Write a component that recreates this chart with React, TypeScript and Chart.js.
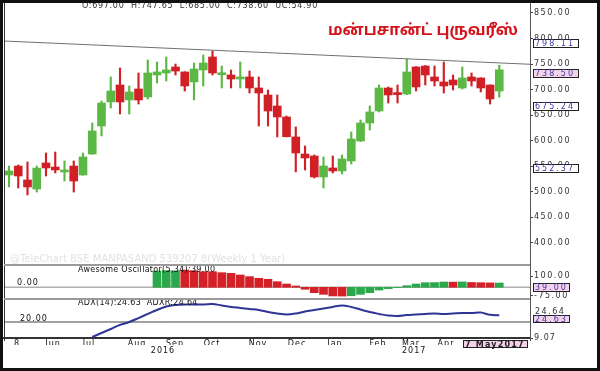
import React, { useEffect, useRef } from 'react';
import { Chart, registerables } from 'chart.js';

Chart.register(...registerables);

const FONT = '"DejaVu Sans", "Liberation Sans", Arial, sans-serif';

// ---------- data ----------
const candleOpen = [532.5, 550, 522.7, 505, 556, 548, 538.4, 550, 532.5, 573.6, 628.5, 675.6, 708.9, 679.5, 701, 685.4, 728.5, 732.4, 744.2, 734.4, 714.8, 738.3, 763.8, 729, 728.5, 720.6, 724.6, 703, 689.3, 667.7, 646.2, 607, 573.6, 569.7, 528.6, 546.2, 540.3, 559.9, 599.1, 634.4, 657.9, 703, 693.2, 691.2, 744.2, 746.1, 724.6, 714.8, 718.7, 703, 724.6, 722.6, 708.9, 697];
const candleHigh = [550, 552, 558, 550, 575.6, 577.5, 560, 560, 575.6, 634.4, 677.5, 724.6, 742.2, 706.9, 732.4, 757.9, 754, 763.8, 750, 735, 752, 767.7, 775.5, 746, 738.3, 754, 736.3, 724.6, 699.1, 689.3, 648, 626.6, 589.3, 571.7, 567.8, 569.7, 571.7, 616.8, 640.3, 667.7, 708.9, 705, 708.9, 759.8, 745, 747, 746.1, 754, 728.5, 744.2, 732.4, 723, 709, 747.65];
const candleLow = [509, 507, 493.3, 499, 530.5, 536.4, 520.7, 499, 532, 573, 609, 663.8, 652, 652, 671.6, 681.4, 712.8, 716.7, 728.5, 697.1, 679.5, 706.9, 728.5, 703, 703, 703, 693.2, 628.5, 628.5, 607, 607, 538.5, 542.3, 526.6, 507, 536.4, 534.4, 554, 598, 620.7, 656, 673.6, 673.6, 690, 697.1, 708.9, 706.9, 693.2, 699.1, 701, 706.9, 695.2, 671.6, 685];
const candleClose = [540.3, 530.5, 509, 546, 546.2, 542.3, 542.3, 520.7, 567.8, 618.7, 673.6, 697.1, 675.6, 695.2, 679.5, 732.4, 734.4, 738.3, 736.3, 706.9, 740.2, 752, 732.4, 731, 720.6, 724.6, 703, 693.2, 657.9, 646.2, 607.5, 575.6, 565.8, 528.6, 550.1, 540.3, 563.8, 603, 634.4, 656, 703, 689.3, 690, 734.4, 705, 728.5, 716.7, 706.9, 708.9, 722.6, 716.7, 703, 681.4, 738.6];

const trendX = [-0.54, 56.32];
const trendY = [795.1, 749.5];

const oscStart = 16;
const oscValues = [148, 152, 150, 157, 151, 142, 142, 133, 127, 112, 97, 82, 73, 51, 30, 12, -18, -49, -64, -79, -80, -77, -64, -49, -25, -12, -3, 15, 30, 42, 43, 48, 47, 49, 44, 42, 40, 39];
const oscUp = ['g','g','g','r','r','r','r','r','r','r','r','r','r','r','r','r','r','r','r','r','r','g','g','g','g','g','g','g','g','g','g','g','r','g','r','r','r','g'];

const adxStart = 9;
const adxValues = [9.75, 12.5, 15.2, 18, 20, 22.7, 25.5, 28.2, 30.6, 31.6, 32, 32, 32, 32.3, 31.3, 30.3, 29.6, 28.9, 28.2, 26.8, 25.8, 25.1, 25.8, 27.2, 28.2, 29.2, 30.3, 31.3, 30.3, 28.5, 26.8, 25.5, 24.4, 24.1, 24.8, 25.1, 25.5, 25.8, 25.5, 25.8, 26.1, 26.1, 26.5, 24.9, 24.63];
const adxLevel = 20;

const priceTicks = [850, 800, 750, 700, 650, 600, 550, 500, 450, 400];
const priceTags = [798.11, 738.5, 675.24, 552.37];
const priceTagFill = ['#ffffff', '#f5d2ec', '#ffffff', '#ffffff'];
const oscTicks = [100, -75];
const oscLast = 39.0;
const adxTicks = [9.07];
const adxLast = 24.63;
const adxrLast = 24.64;

const monthLabels = ['8', 'Jun', 'Jul', 'Aug', 'Sep', 'Oct', 'Nov', 'Dec', 'Jan', 'Feb', 'Mar', 'Apr'];
const monthPos = [0.86, 4.76, 8.65, 13.84, 17.95, 21.95, 26.92, 31.14, 35.24, 39.89, 43.46, 47.24];
const yearLabels = ['2016', '2017'];
const yearPos = [16.65, 43.8];

const titleText = 'மன்பசான்ட் புருவரீஸ்';
const headerText = 'O:697.00  H:747.65  L:685.00  C:738.60  UC:54.90';
const watermark = '@TeleChart BSE MANPASAND 539207 8(Weekly 1 Year)';
const oscTitle = 'Awesome Oscillator(5,34):39.00';
const adxTitle = 'ADX(14):24.63  ADXR:24.64';
const dateTag = '7 May2017';

// ---------- layout constants ----------
const X_MIN = -0.54;
const X_MAX = 56.32;
const AXIS_W = 70;
const GREEN = '#5cb844';
const RED = '#d01f25';
const OSC_GREEN = '#2ca84c';
const OSC_RED = '#d42128';

function drawTag(ctx: CanvasRenderingContext2D, x: number, yTop: number, w: number, h: number, text: string, fill: string, color: string, bold = false) {
  const y = Math.round(yTop);
  ctx.fillStyle = fill;
  ctx.fillRect(x, y, w, h);
  ctx.strokeStyle = '#222';
  ctx.lineWidth = 1;
  ctx.strokeRect(x + 0.5, y + 0.5, w - 1, h - 1);
  ctx.fillStyle = color;
  ctx.font = `${bold ? 'bold ' : ''}8px ${FONT}`;
  ctx.textAlign = 'left';
  ctx.textBaseline = 'middle';
  ctx.fillText(text, x + 2, y + h / 2 + 0.5);
}

function vLines(ctx: CanvasRenderingContext2D, h: number) {
  ctx.fillStyle = '#333';
  ctx.fillRect(4, 0, 1, h);
  ctx.fillStyle = '#555';
  ctx.fillRect(530, 0, 1, h);
}

const noPad = (s: any) => { s.paddingTop = 0; s.paddingBottom = 0; s.paddingLeft = 0; s.paddingRight = 0; };

function yAxis(min: number, max: number, ticks: number[]) {
  return {
    position: 'right' as const,
    min, max,
    afterBuildTicks: (s: any) => { s.ticks = ticks.map((v) => ({ value: v })); },
    afterFit: (s: any) => { s.width = AXIS_W; noPad(s); },
    grid: { display: true, drawOnChartArea: false, drawTicks: true, tickLength: 3, color: '#444' },
    border: { display: false },
    ticks: { padding: 1, color: '#333', font: { family: FONT, size: 8 }, callback: (v: any) => Number(v).toFixed(2), autoSkip: false },
  };
}

const hiddenX = {
  type: 'linear' as const, min: X_MIN, max: X_MAX, offset: false, display: false,
};

export default function App() {
  const mainRef = useRef<HTMLCanvasElement>(null);
  const oscRef = useRef<HTMLCanvasElement>(null);
  const adxRef = useRef<HTMLCanvasElement>(null);

  useEffect(() => {
    const charts: Chart[] = [];
    const colors = candleOpen.map((o, i) => (candleClose[i] >= o ? GREEN : RED));

    const mainDeco = {
      id: 'mainDeco',
      beforeDraw(chart: any) { chart.ctx.letterSpacing = '1.5px'; },
      afterDraw(chart: any) {
        const ctx = chart.ctx as CanvasRenderingContext2D;
        const ys = chart.scales.y;
        ctx.save();
        ctx.letterSpacing = '0px';
        vLines(ctx, 266);
        ctx.fillStyle = '#9a9a9a';
        ctx.fillRect(4, 264, 526, 2);
        // watermark
        ctx.font = `10px ${FONT}`;
        ctx.fillStyle = '#e2e2e2';
        ctx.textAlign = 'left';
        ctx.textBaseline = 'middle';
        ctx.fillText(watermark, 10, 259);
        // header
        ctx.letterSpacing = '0.7px';
        ctx.font = `8px ${FONT}`;
        ctx.fillStyle = '#333';
        ctx.fillText(headerText, 82, 6);
        // title
        ctx.letterSpacing = '0px';
        ctx.font = `bold 24px "Noto Sans Tamil", "Lohit Tamil", "FreeSans", ${FONT}`;
        const tw = ctx.measureText(titleText).width || 190;
        const size = Math.max(10, Math.min(30, 24 * 190 / tw));
        ctx.font = `bold ${size.toFixed(1)}px "Noto Sans Tamil", "Lohit Tamil", "FreeSans", ${FONT}`;
        ctx.fillStyle = '#d4141c';
        ctx.textAlign = 'center';
        ctx.textBaseline = 'middle';
        ctx.fillText(titleText, 423, 32);
        // tags
        ctx.letterSpacing = '2px';
        priceTags.forEach((v, i) => {
          drawTag(ctx, 533, ys.getPixelForValue(v) - 0.5, 46, 9, v.toFixed(2), priceTagFill[i], '#3a3a9e');
        });
        ctx.restore();
        ctx.letterSpacing = '0px';
      },
    };

    const main = new Chart(mainRef.current!, {
      type: 'bar',
      data: {
        datasets: [
          {
            type: 'line',
            data: trendX.map((x, i) => ({ x, y: trendY[i] })),
            borderColor: '#707070', borderWidth: 1, pointRadius: 0, order: 0,
          } as any,
          {
            type: 'bar',
            data: candleOpen.map((o, i) => ({ x: i, y: [o, candleClose[i]] })),
            backgroundColor: colors, barThickness: 8, grouped: false, minBarLength: 2, order: 1,
          } as any,
          {
            type: 'bar',
            data: candleLow.map((l, i) => ({ x: i, y: [l, candleHigh[i]] })),
            backgroundColor: colors, barThickness: 1.5, grouped: false, order: 2,
          } as any,
        ],
      },
      options: {
        animation: false, responsive: false, events: [],
        layout: { padding: { left: 4, top: 3, bottom: 1, right: 0 }, autoPadding: false },
        plugins: { legend: { display: false }, tooltip: { enabled: false } },
        scales: { x: hiddenX as any, y: yAxis(356, 869.6, priceTicks) as any },
      },
      plugins: [mainDeco],
    });
    charts.push(main);

    const oscDeco = {
      id: 'oscDeco',
      beforeDraw(chart: any) { chart.ctx.letterSpacing = '1.5px'; },
      afterDraw(chart: any) {
        const ctx = chart.ctx as CanvasRenderingContext2D;
        const ys = chart.scales.y;
        ctx.save();
        ctx.letterSpacing = '0px';
        vLines(ctx, 34);
        ctx.fillStyle = '#9a9a9a';
        ctx.fillRect(4, 32, 526, 2);
        ctx.font = `8px ${FONT}`;
        ctx.letterSpacing = '0.3px';
        ctx.fillStyle = '#111';
        ctx.textAlign = 'left';
        ctx.textBaseline = 'middle';
        ctx.fillText(oscTitle, 78, 4);
        ctx.letterSpacing = '1px';
        ctx.fillText('0.00', 17, ys.getPixelForValue(0) - 4);
        ctx.letterSpacing = '2px';
        drawTag(ctx, 533, ys.getPixelForValue(oscLast), 37, 9, oscLast.toFixed(2), '#f5d2ec', '#3a3a9e');
        ctx.restore();
        ctx.letterSpacing = '0px';
      },
    };

    const osc = new Chart(oscRef.current!, {
      type: 'bar',
      data: {
        datasets: [
          {
            type: 'bar',
            data: oscValues.map((v, k) => ({ x: oscStart + k, y: v })),
            backgroundColor: oscUp.map((c) => (c === 'g' ? OSC_GREEN : OSC_RED)),
            barThickness: 8, grouped: false, order: 0,
          } as any,
          {
            type: 'line',
            data: [{ x: X_MIN, y: 0 }, { x: X_MAX, y: 0 }],
            borderColor: '#b0b0b0', borderWidth: 1.5, pointRadius: 0, order: 1,
          } as any,
        ],
      },
      options: {
        animation: false, responsive: false, events: [],
        layout: { padding: { left: 4, top: 1, bottom: 2, right: 0 }, autoPadding: false },
        plugins: { legend: { display: false }, tooltip: { enabled: false } },
        scales: { x: hiddenX as any, y: yAxis(-97.4, 184.7, oscTicks) as any },
      },
      plugins: [oscDeco],
    });
    charts.push(osc);

    const adxDeco = {
      id: 'adxDeco',
      beforeDraw(chart: any) { chart.ctx.letterSpacing = '1px'; },
      afterDraw(chart: any) {
        const ctx = chart.ctx as CanvasRenderingContext2D;
        const ys = chart.scales.y;
        const xs = chart.scales.x;
        ctx.save();
        ctx.letterSpacing = '0px';
        vLines(ctx, 41);
        ctx.font = `8px ${FONT}`;
        ctx.letterSpacing = '0.3px';
        ctx.fillStyle = '#111';
        ctx.textAlign = 'left';
        ctx.textBaseline = 'middle';
        ctx.fillText(adxTitle, 78, 3);
        ctx.letterSpacing = '1px';
        ctx.fillText(adxLevel.toFixed(2), 20, ys.getPixelForValue(adxLevel) - 3);
        ctx.letterSpacing = '1.5px';
        ctx.fillStyle = '#333';
        ctx.fillText(adxrLast.toFixed(2), 535, ys.getPixelForValue(adxrLast) - 3);
        ctx.letterSpacing = '2px';
        drawTag(ctx, 533, ys.getPixelForValue(adxLast), 37, 8, adxLast.toFixed(2), '#f5d2ec', '#3a3a9e');
        ctx.letterSpacing = '1.2px';
        const lx = xs.getPixelForValue(adxStart + adxValues.length - 1);
        drawTag(ctx, Math.round(lx) - 36, 40, 65, 8, dateTag, '#f5d2ec', '#222', true);
        ctx.restore();
        ctx.letterSpacing = '0px';
      },
    };

    const adx = new Chart(adxRef.current!, {
      type: 'line',
      data: {
        datasets: [
          {
            data: adxValues.map((v, k) => ({ x: adxStart + k, y: v })),
            borderColor: '#2e3594', borderWidth: 2, pointRadius: 0, tension: 0.35, order: 0,
          },
          {
            data: [{ x: X_MIN, y: adxLevel }, { x: X_MAX, y: adxLevel }],
            borderColor: '#444', borderWidth: 1, pointRadius: 0, order: 1,
          },
        ],
      },
      options: {
        animation: false, responsive: false, events: [],
        layout: { padding: { left: 4, top: 1, bottom: 14, right: 0 }, autoPadding: false },
        plugins: { legend: { display: false }, tooltip: { enabled: false } },
        scales: {
          x: {
            type: 'linear', min: X_MIN, max: X_MAX, offset: false, position: 'bottom', weight: 0,
            afterBuildTicks: (s: any) => { s.ticks = monthPos.map((v) => ({ value: v })); },
            afterFit: (s: any) => { s.height = 7; noPad(s); },
            grid: { display: false, drawTicks: false },
            border: { display: true, color: '#333', width: 2 },
            ticks: { autoSkip: false, maxRotation: 0, padding: 1, color: '#111', font: { family: FONT, size: 8 }, callback: (_v: any, i: number) => monthLabels[i] },
          } as any,
          x2: {
            type: 'linear', min: X_MIN, max: X_MAX, offset: false, position: 'bottom', weight: 1,
            afterBuildTicks: (s: any) => { s.ticks = yearPos.map((v) => ({ value: v })); },
            afterFit: (s: any) => { s.height = 12; noPad(s); },
            grid: { display: false, drawTicks: false },
            border: { display: false },
            ticks: { autoSkip: false, maxRotation: 0, padding: 1, color: '#111', font: { family: FONT, size: 8 }, callback: (_v: any, i: number) => yearLabels[i] },
          } as any,
          y: yAxis(9.07, 34.34, adxTicks) as any,
        },
      },
      plugins: [adxDeco],
    });
    charts.push(adx);

    return () => { charts.forEach((c) => c.destroy()); };
  }, []);

  return (
    <div style={{ position: 'absolute', left: 0, top: 0, width: 600, height: 371, background: '#fff', overflow: 'hidden' }}>
      <canvas ref={mainRef} width={600} height={266} style={{ position: 'absolute', left: 0, top: 0 }} />
      <canvas ref={oscRef} width={600} height={34} style={{ position: 'absolute', left: 0, top: 266 }} />
      <canvas ref={adxRef} width={600} height={71} style={{ position: 'absolute', left: 0, top: 300 }} />
      <div style={{ position: 'absolute', left: 0, top: 0, width: 600, height: 371, border: '3px solid #111', boxSizing: 'border-box', pointerEvents: 'none' }} />
    </div>
  );
}
